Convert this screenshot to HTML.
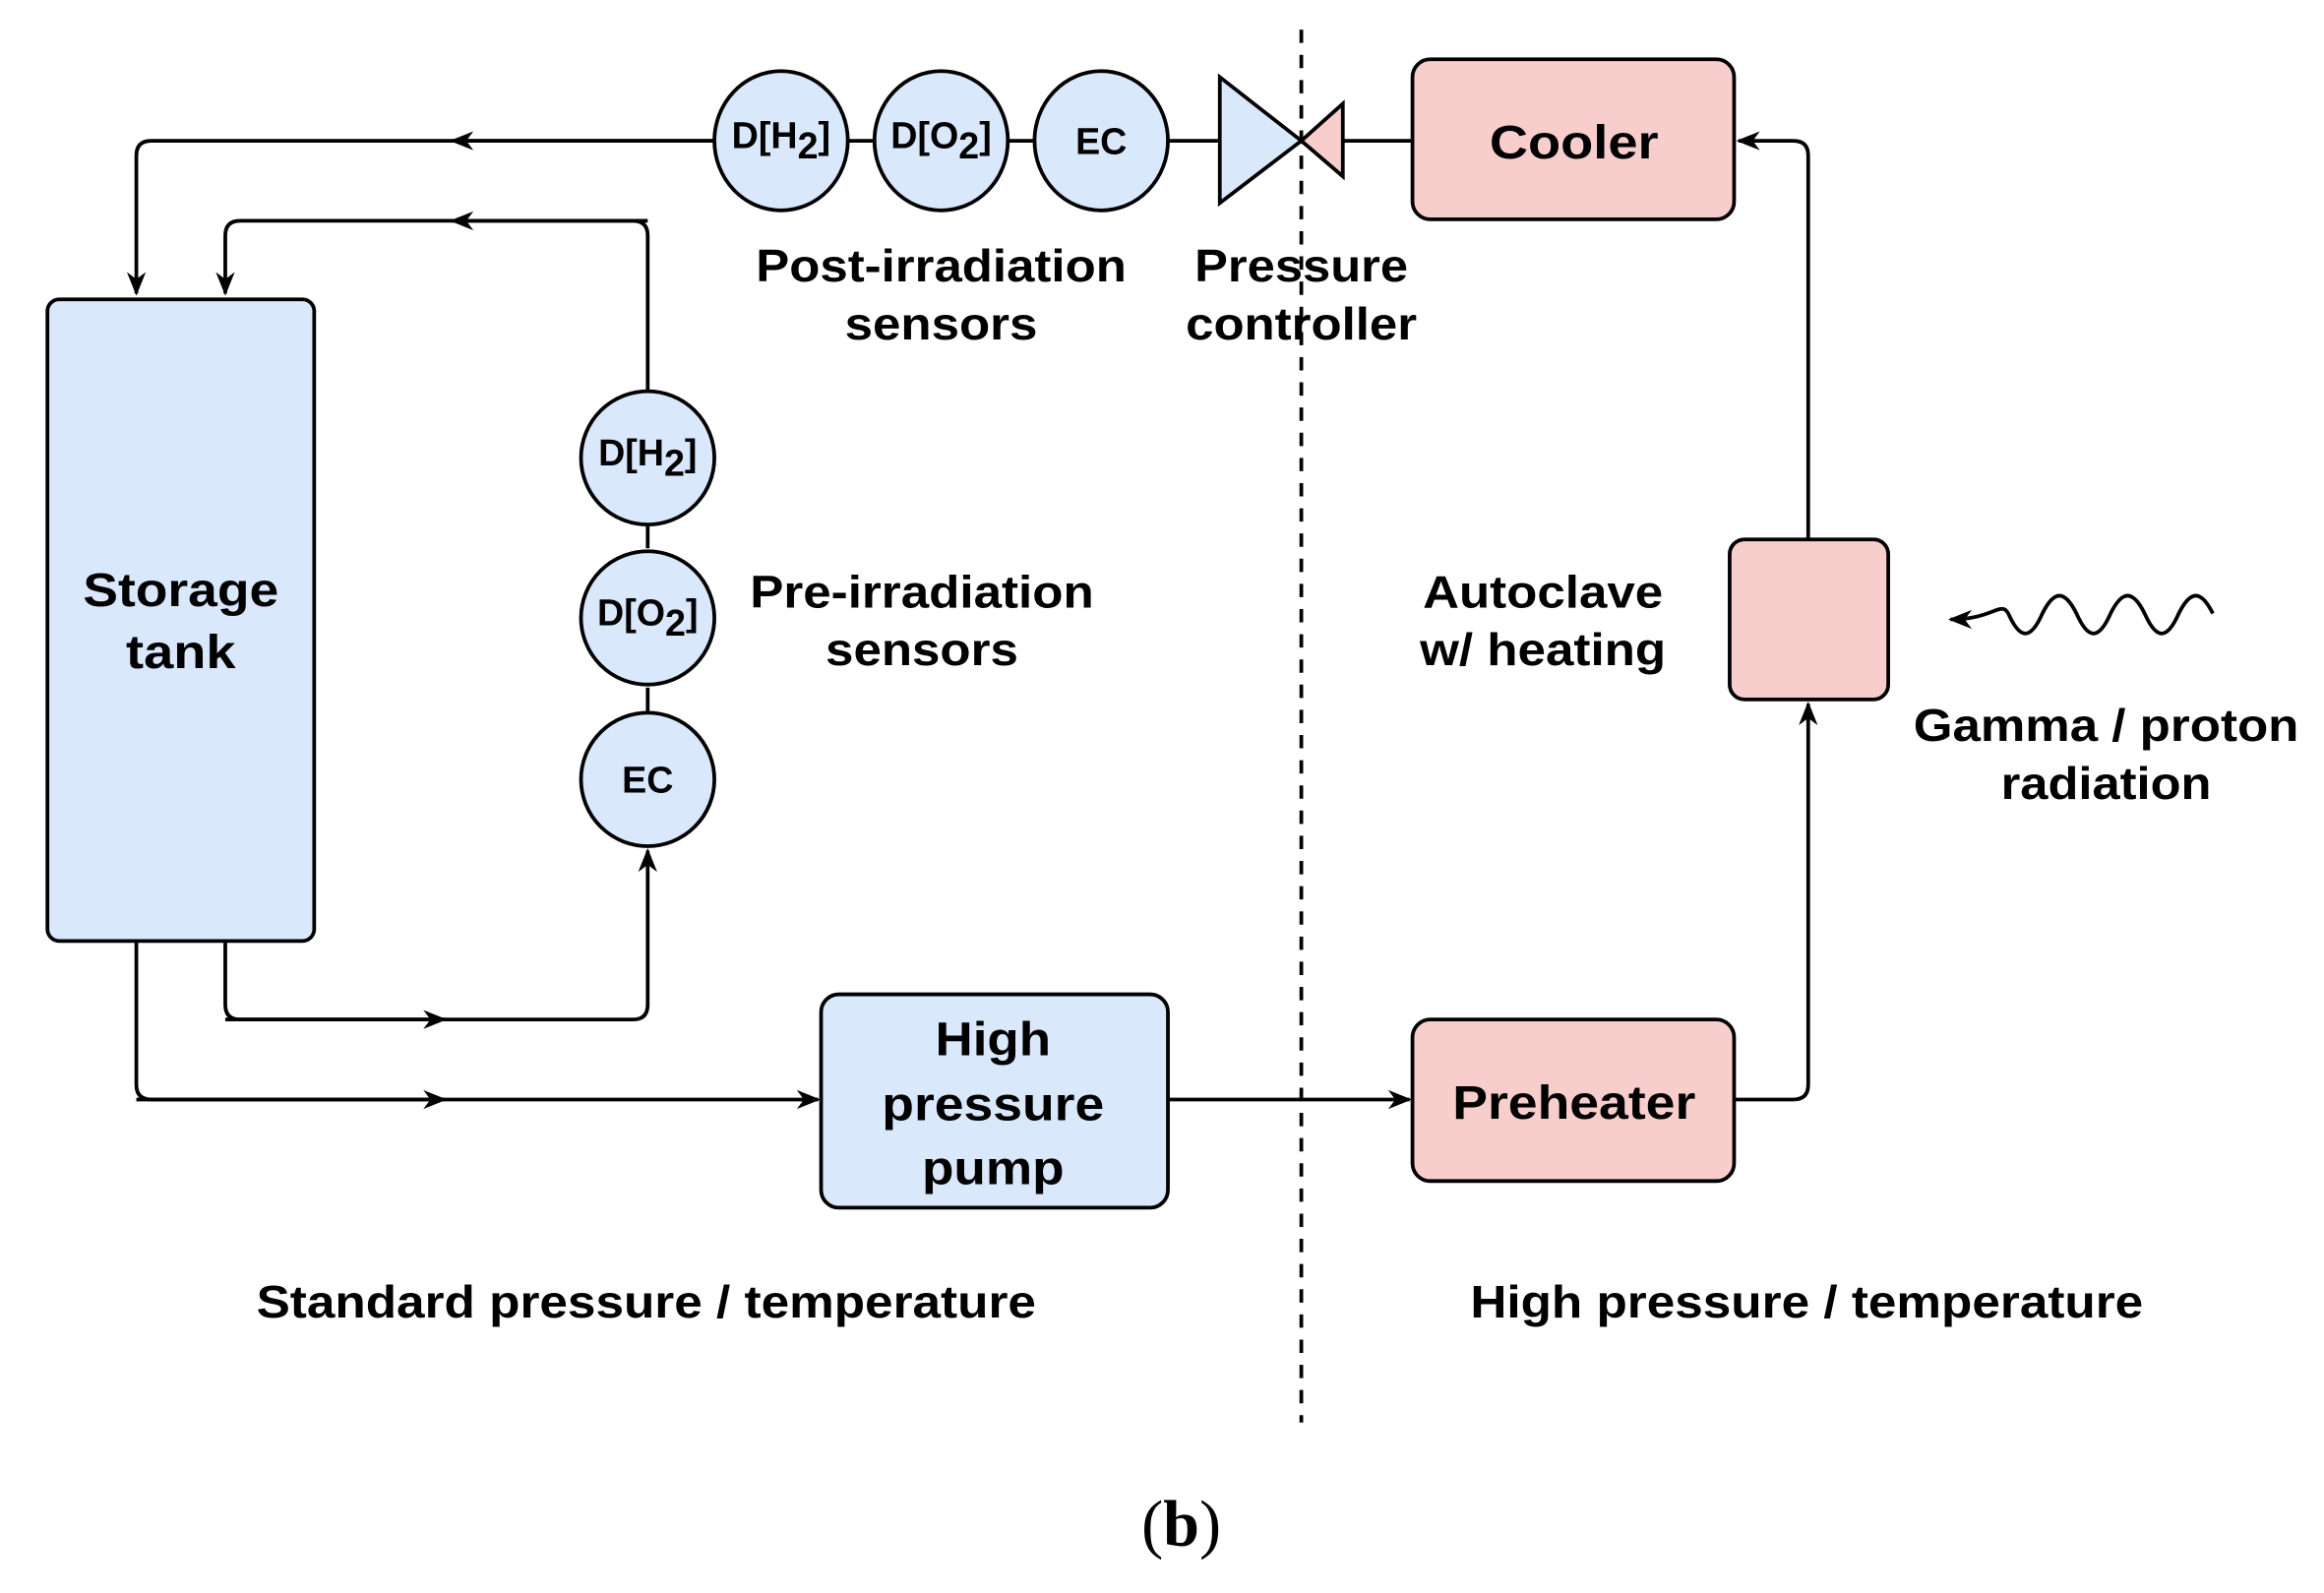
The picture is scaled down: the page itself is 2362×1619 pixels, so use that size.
<!DOCTYPE html>
<html><head><meta charset="utf-8"><style>html,body{margin:0;padding:0;background:#fff}svg{display:block}</style></head>
<body>
<svg width="2362" height="1619" viewBox="0 0 1568 1075" preserveAspectRatio="none" xmlns="http://www.w3.org/2000/svg">
<defs>
<marker id="a" viewBox="0 0 10 10" refX="9" refY="5" markerWidth="16" markerHeight="16" orient="auto" markerUnits="userSpaceOnUse">
<path d="M0,1 L10,5 L0,9 L3,5 Z" fill="#000"/></marker>
</defs>
<g stroke="#000" stroke-width="2.5" fill="none" stroke-linejoin="round">
<line x1="878" y1="20" x2="878" y2="960" stroke-dasharray="9,8" stroke-width="2.5"/>
<path d="M482,95 H102 Q92,95 92,105 V198" marker-end="url(#a)"/>
<path d="M482,95 H305" marker-end="url(#a)"/>
<path d="M437,265 V159 Q437,149 427,149 H162 Q152,149 152,159 V198" marker-end="url(#a)"/>
<path d="M437,149 H305" marker-end="url(#a)"/>
<path d="M152,635 V678 Q152,688 162,688 H427 Q437,688 437,678 V574" marker-end="url(#a)"/>
<path d="M152,688 H300" marker-end="url(#a)"/>
<path d="M92,635 V732 Q92,742 102,742 H552" marker-end="url(#a)"/>
<path d="M92,742 H300" marker-end="url(#a)"/>
<path d="M788,742 H951" marker-end="url(#a)"/>
<path d="M1170,742 H1210 Q1220,742 1220,732 V475" marker-end="url(#a)"/>
<path d="M1220,364 V105 Q1220,95 1210,95 H1173" marker-end="url(#a)"/>
<path d="M953,95 H906"/>
<path d="M823,95 H788"/>
<path d="M698,95 H680"/>
<path d="M590,95 H572"/>
<path d="M437,354 V370"/>
<path d="M437,464 V481"/>
<path d="M1493,414 C1485,398 1478,398 1470,414 C1462,432 1455,432 1447,414 C1439,398 1432,398 1424,414 C1416,432 1409,432 1401,414 C1393,398 1386,398 1378,414 C1370,432 1363,432 1355,414 C1350,405 1345,418 1316,418" marker-end="url(#a)"/>
</g>
<g stroke="#000" stroke-width="2.5">
<rect x="32" y="202" width="180" height="433" rx="8" fill="#dae8fc"/>
<rect x="554" y="671" width="234" height="144" rx="12" fill="#dae8fc"/>
<rect x="953" y="688" width="217" height="109" rx="12" fill="#f8cecc"/>
<rect x="953" y="40" width="217" height="108" rx="12" fill="#f8cecc"/>
<rect x="1167" y="364" width="107" height="108" rx="10" fill="#f8cecc"/>
<ellipse cx="527" cy="95" rx="45" ry="47" fill="#dae8fc"/>
<ellipse cx="635" cy="95" rx="45" ry="47" fill="#dae8fc"/>
<ellipse cx="743" cy="95" rx="45" ry="47" fill="#dae8fc"/>
<ellipse cx="437" cy="309" rx="45" ry="45" fill="#dae8fc"/>
<ellipse cx="437" cy="417" rx="45" ry="45" fill="#dae8fc"/>
<ellipse cx="437" cy="526" rx="45" ry="45" fill="#dae8fc"/>
<path d="M823,52 L878,95 L823,137 Z" fill="#dae8fc"/>
<path d="M906,70 L878,95 L906,119 Z" fill="#f8cecc"/>
</g>
<g font-family="Liberation Sans, sans-serif" font-weight="bold" fill="#000" text-anchor="middle" lengthAdjust="spacingAndGlyphs">
<g font-size="32">
<text x="122" y="409" textLength="132" lengthAdjust="spacingAndGlyphs">Storage</text>
<text x="122" y="451" textLength="74" lengthAdjust="spacingAndGlyphs">tank</text>
<text x="670" y="712" textLength="78" lengthAdjust="spacingAndGlyphs">High</text>
<text x="670" y="756" textLength="150" lengthAdjust="spacingAndGlyphs">pressure</text>
<text x="670" y="799" textLength="96" lengthAdjust="spacingAndGlyphs">pump</text>
<text x="1062" y="755" textLength="164" lengthAdjust="spacingAndGlyphs">Preheater</text>
<text x="1062" y="107" textLength="114" lengthAdjust="spacingAndGlyphs">Cooler</text>
</g>
<g font-size="31">
<text x="635" y="190" textLength="250" lengthAdjust="spacingAndGlyphs">Post-irradiation</text>
<text x="635" y="229" textLength="130" lengthAdjust="spacingAndGlyphs">sensors</text>
<text x="878" y="190" textLength="144" lengthAdjust="spacingAndGlyphs">Pressure</text>
<text x="878" y="229" textLength="156" lengthAdjust="spacingAndGlyphs">controller</text>
<text x="622" y="410" textLength="232" lengthAdjust="spacingAndGlyphs">Pre-irradiation</text>
<text x="622" y="449" textLength="130" lengthAdjust="spacingAndGlyphs">sensors</text>
<text x="1041" y="410" textLength="162" lengthAdjust="spacingAndGlyphs">Autoclave</text>
<text x="1041" y="449" textLength="166" lengthAdjust="spacingAndGlyphs">w/ heating</text>
<text x="1421" y="500" textLength="260" lengthAdjust="spacingAndGlyphs">Gamma / proton</text>
<text x="1421" y="539" textLength="142" lengthAdjust="spacingAndGlyphs">radiation</text>
<text x="436" y="889" textLength="526" lengthAdjust="spacingAndGlyphs">Standard pressure / temperature</text>
<text x="1219" y="889" textLength="454" lengthAdjust="spacingAndGlyphs">High pressure / temperature</text>
</g>
</g>
<g font-family="Liberation Sans, sans-serif" font-weight="bold" fill="#000" text-anchor="middle" font-size="25">
<text x="527" y="100">D[H<tspan dy="7">2</tspan><tspan dy="-7">]</tspan></text>
<text x="635" y="100">D[O<tspan dy="7">2</tspan><tspan dy="-7">]</tspan></text>
<text x="743" y="104">EC</text>
<text x="437" y="314">D[H<tspan dy="7">2</tspan><tspan dy="-7">]</tspan></text>
<text x="437" y="422">D[O<tspan dy="7">2</tspan><tspan dy="-7">]</tspan></text>
<text x="437" y="535">EC</text>
</g>
<text x="797" y="1043" font-family="Liberation Serif, serif" font-size="44" text-anchor="middle" fill="#000">(<tspan font-weight="bold">b</tspan>)</text>
</svg>
</body></html>
